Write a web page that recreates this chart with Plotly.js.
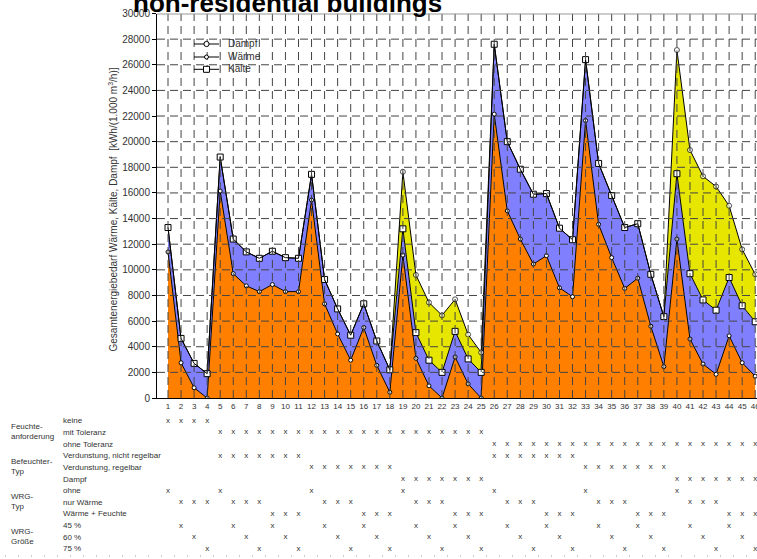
<!DOCTYPE html>
<html>
<head>
<meta charset="utf-8">
<script src="https://cdn.plot.ly/plotly-3.0.1.min.js"></script>
<style>
html,body{margin:0;padding:0;overflow:hidden;background:#fff;}
#chart{width:800px;height:559px;}
</style>
</head>
<body>
<div id="chart"></div>
<script>
// ---------- data ----------
const categories = [1,2,3,4,5,6,7,8,9,10,11,12,13,14,15,16,17,18,19,20,21,22,23,24,25,26,27,28,29,30,31,32,33,34,35,36,37,38,39,40,41,42,43,44,45,46];
const waerme = [11400,2750,800,0,16150,9700,8750,8300,8850,8300,8300,15450,7350,5000,2950,5500,2550,450,11150,3100,950,0,3200,1100,0,22150,14600,12400,10450,11100,8600,7900,21650,13550,10950,8550,9350,5600,2450,12400,4600,2650,1850,4850,2750,1700];
const kaelte = [1900,1900,1900,1900,2650,2700,2650,2600,2600,2650,2600,2000,1900,1950,1950,1850,1900,1750,2050,2000,2000,2000,2000,1950,2000,5450,5400,5450,5450,4850,4650,4450,4750,4750,4850,4750,4250,4050,3900,5100,5100,5000,5000,4550,4450,4250];
const dampf = [0,0,0,0,0,0,0,0,0,0,0,0,0,0,0,0,0,0,4450,4500,4500,4450,2500,1900,1550,0,0,0,0,0,0,0,0,0,0,0,0,0,0,9650,9650,9650,9650,5600,4400,3700];
const yTicks = [0,2000,4000,6000,8000,10000,12000,14000,16000,18000,20000,22000,24000,26000,28000,30000];
const yTickText = ["0","2000","4000","6000","8000","10000","12000","14000","16000","18000","20000","22000","24000","26000","28000","30000"];
const seriesNames = ["Dampf", "Wärme", "Kälte"];

// table below the chart: columns marked with "x"
const rowLabels = ["keine","mit Toleranz","ohne Toleranz","Verdunstung, nicht regelbar","Verdunstung, regelbar","Dampf","ohne","nur Wärme","Wärme + Feuchte","45 %","60 %","75 %"];
const groupLabels = ["Feuchte-<br>anforderung","Befeuchter-<br>Typ","WRG-<br>Typ","WRG-<br>Größe"];
const rowKeine = [1,2,3,4];
const rowMitToleranz = [5,6,7,8,9,10,11,12,13,14,15,16,17,18,19,20,21,22,23,24,25];
const rowOhneToleranz = [26,27,28,29,30,31,32,33,34,35,36,37,38,39,40,41,42,43,44,45,46];
const rowVerdNicht = [5,6,7,8,9,10,11,26,27,28,29,30,31,32];
const rowVerdRegel = [12,13,14,15,16,17,18,33,34,35,36,37,38,39];
const rowDampf = [19,20,21,22,23,24,25,40,41,42,43,44,45,46];
const rowOhne = [1,5,12,19,26,33,40];
const rowNurWaerme = [2,3,4,6,7,8,13,14,15,20,21,22,27,28,29,34,35,36,41,42,43];
const rowWaermeFeuchte = [9,10,11,16,17,18,23,24,25,30,31,32,37,38,39,44,45,46];
const row45 = [2,6,9,13,16,20,23,27,30,34,37,41,44];
const row60 = [3,7,10,14,17,21,24,28,31,35,38,42,45];
const row75 = [4,8,11,15,18,22,25,29,32,36,39,43,46];
const tableRows = [rowKeine,rowMitToleranz,rowOhneToleranz,rowVerdNicht,rowVerdRegel,rowDampf,rowOhne,rowNurWaerme,rowWaermeFeuchte,row45,row60,row75];

// ---------- layout helpers ----------
const W = 800, H = 559, ML = 157, MR = 35;
const PW = W - ML - MR;
const px = v => (v - ML) / PW;
const py = v => 1 - v / H;
const FONT = "Liberation Sans, Arial, sans-serif";
const TXT = "#333";

const traces = [
  {x: categories, y: waerme, name: seriesNames[1], stackgroup: "one", mode: "lines+markers",
   fillcolor: "rgb(255,128,0)", line: {color: "#000", width: 1},
   marker: {symbol: "circle", size: 4, color: "#fff", line: {color: "#000", width: 1}},
   showlegend: false, hoverinfo: "x+y"},
  {x: categories, y: kaelte, name: seriesNames[2], stackgroup: "one", mode: "lines+markers",
   fillcolor: "rgb(128,128,255)", line: {color: "#000", width: 1},
   marker: {symbol: "square", size: 6, color: "#fff", line: {color: "#000", width: 1}},
   showlegend: false, hoverinfo: "x+y"},
  {x: categories, y: dampf, name: seriesNames[0], stackgroup: "one", mode: "lines+markers",
   fillcolor: "rgb(230,230,0)", line: {color: "#000", width: 1},
   marker: {symbol: "circle", size: dampf.map(d => d > 0 ? 5 : 0), color: "#fff", line: {color: "#000", width: 1}},
   showlegend: false, hoverinfo: "x+y"}
];

tableRows.forEach((cols, i) => {
  traces.push({x: cols, y: cols.map(() => i), yaxis: "y2", mode: "text",
    text: cols.map(() => "x"), textposition: "middle center",
    textfont: {family: FONT, size: 8, color: TXT}, cliponaxis: false,
    showlegend: false, hoverinfo: "skip"});
});

const shapes = [];
// grid lines drawn above the filled areas
categories.forEach(c => shapes.push({type: "line", layer: "above", xref: "x", yref: "y",
  x0: c, x1: c, y0: 0, y1: 30000, line: {color: "#444", width: 1, dash: "8px,5px"}}));
yTicks.slice(1, -1).forEach(t => shapes.push({type: "line", layer: "above", xref: "paper", yref: "y",
  x0: 0, x1: 1, y0: t, y1: t, line: {color: "#444", width: 1, dash: "8px,5px"}}));
// top frame
shapes.push({type: "line", layer: "above", xref: "paper", yref: "y", x0: 0, x1: 1, y0: 30000, y1: 30000,
  line: {color: "#999", width: 2}});
// bottom dotted rule
shapes.push({type: "line", xref: "paper", yref: "paper", x0: px(5), x1: 1, y0: py(556), y1: py(556),
  line: {color: "#999", width: 1, dash: "1px,12px"}});

// manual legend
const legY = [44, 57, 69.3];
const legSym = ["circle", "circle", "rect"];
const legSize = [2.6, 2, 3];
legY.forEach((yy, i) => {
  shapes.push({type: "line", layer: "above", xref: "paper", yref: "paper",
    x0: px(194), x1: px(219), y0: py(yy), y1: py(yy), line: {color: "#000", width: 1}});
  shapes.push({type: legSym[i], layer: "above", xref: "paper", yref: "paper",
    xsizemode: "pixel", ysizemode: "pixel", xanchor: px(206.5), yanchor: py(yy),
    x0: -legSize[i], x1: legSize[i], y0: -legSize[i], y1: legSize[i],
    fillcolor: "#fff", line: {color: "#000", width: 1}});
});

const annotations = [];
seriesNames.forEach((n, i) => annotations.push({text: n, xref: "paper", yref: "paper",
  x: px(226), y: py(legY[i] - 0.5), xanchor: "left", yanchor: "middle", showarrow: false,
  font: {family: FONT, size: 10, color: TXT}}));
rowLabels.forEach((r, i) => annotations.push({text: r, xref: "paper", yref: "y2",
  x: px(61), y: i, xanchor: "left", yanchor: "middle", showarrow: false,
  font: {family: FONT, size: 8, color: TXT}}));
groupLabels.forEach((g, i) => annotations.push({text: g, xref: "paper", yref: "y2",
  x: px(9), y: 1 + 3 * i - 0.05, xanchor: "left", yanchor: "middle", align: "left", showarrow: false,
  font: {family: FONT, size: 8, color: TXT}}));
annotations.push({text: "<b>non-residential buildings</b>", xref: "paper", yref: "paper",
  x: px(287), y: py(3), xanchor: "center", yanchor: "middle", showarrow: false,
  font: {family: FONT, size: 26, color: "#000"}});
annotations.push({text: "Gesamtenergiebedarf Wärme, Kälte, Dampf &nbsp;[kWh/(1.000 m<sup>3</sup>/h)]",
  xref: "paper", yref: "paper", x: px(112.5), y: py(210), textangle: -90,
  xanchor: "center", yanchor: "middle", showarrow: false,
  font: {family: FONT, size: 10, color: TXT}});

const layout = {
  width: W, height: H,
  margin: {l: ML, r: MR, t: 0, b: 0, pad: 0},
  paper_bgcolor: "#fff", plot_bgcolor: "#fff",
  font: {family: FONT, color: TXT},
  showlegend: false,
  xaxis: {range: [0.157, 46.75], tickmode: "array", tickvals: categories, ticktext: categories.map(String),
    showgrid: false, zeroline: false, showline: true, linecolor: "#000", linewidth: 1,
    ticks: "", tickfont: {family: FONT, size: 8, color: TXT}, anchor: "y", fixedrange: true},
  yaxis: {domain: [161 / H, (H - 13.5) / H], range: [0, 30000], tickmode: "array", tickvals: yTicks,
    ticktext: yTickText,
    showgrid: false, zeroline: false, showline: true, linecolor: "#000", linewidth: 1,
    ticks: "outside", ticklen: 4, tickcolor: "#000", tickfont: {family: FONT, size: 10, color: TXT},
    anchor: "x", fixedrange: true},
  yaxis2: {domain: [0, 0.25], range: [11.86, -0.124], visible: false, anchor: "x", fixedrange: true},
  shapes: shapes,
  annotations: annotations
};

Plotly.newPlot("chart", traces, layout, {displayModeBar: false, staticPlot: true});
</script>
</body>
</html>
